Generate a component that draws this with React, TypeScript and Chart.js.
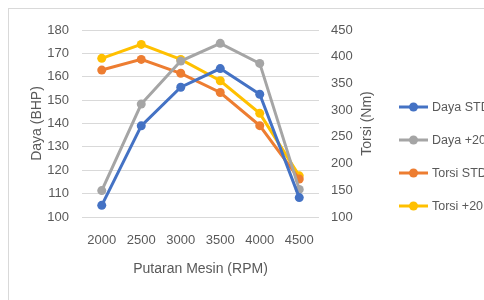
import React, { useEffect, useRef } from "react";
import { Chart, registerables } from "chart.js";

Chart.register(...registerables);

const categories = ["2000", "2500", "3000", "3500", "4000", "4500"];
const dayaStd = [105, 139, 155.5, 163.5, 152.5, 108.3];
const dayaPlus20 = [111.3, 148.3, 166.7, 174.3, 165.7, 111.8];
const torsiStd = [375, 395, 369, 333, 271, 171];
const torsiPlus20 = [397, 423, 395, 355, 294, 177];

const FONT = "'Liberation Sans', Arial, sans-serif";
const TEXT = "#595959";

const legendPlugin = {
  id: "customLegend",
  afterDraw(chart: any) {
    const ctx = chart.ctx;
    const area = chart.chartArea;
    ctx.save();
    ctx.fillStyle = TEXT;
    ctx.font = `14px ${FONT}`;
    ctx.textAlign = "center";
    ctx.textBaseline = "middle";
    ctx.translate(358, (area.top + area.bottom) / 2);
    ctx.rotate(-Math.PI / 2);
    ctx.fillText("Torsi (Nm)", 0, 0);
    ctx.restore();

    ctx.save();
    const rows = [98, 131, 164, 197];
    chart.data.datasets.forEach((ds: any, i: number) => {
      const y = rows[i];
      ctx.strokeStyle = ds.borderColor;
      ctx.lineWidth = 3;
      ctx.beginPath();
      ctx.moveTo(390, y);
      ctx.lineTo(419, y);
      ctx.stroke();
      ctx.fillStyle = ds.borderColor;
      ctx.beginPath();
      ctx.arc(404.5, y, 4.5, 0, Math.PI * 2);
      ctx.fill();
      ctx.fillStyle = TEXT;
      ctx.font = `12.5px ${FONT}`;
      ctx.textAlign = "left";
      ctx.textBaseline = "middle";
      ctx.fillText(ds.label, 423, y + 1);
    });
    ctx.restore();
  },
};

export default function App() {
  const ref = useRef<HTMLCanvasElement>(null);
  useEffect(() => {
    document.body.style.overflow = "hidden";
    if (!ref.current) return;
    const mk = (label: string, data: number[], color: string, axis: string) => ({
      label,
      data,
      borderColor: color,
      backgroundColor: color,
      borderWidth: 3,
      pointRadius: 4.5,
      pointHoverRadius: 4.5,
      pointBorderWidth: 0,
      yAxisID: axis,
      tension: 0,
    });
    const chart = new Chart(ref.current, {
      type: "line",
      data: {
        labels: categories,
        datasets: [
          mk("Daya STD", dayaStd, "#4472C4", "y"),
          mk("Daya +20", dayaPlus20, "#A5A5A5", "y"),
          mk("Torsi STD", torsiStd, "#ED7D31", "y1"),
          mk("Torsi +20", torsiPlus20, "#FFC000", "y1"),
        ],
      },
      options: {
        responsive: false,
        animation: false,
        layout: { padding: { left: 16, right: 105, top: 21, bottom: 18 } },
        plugins: { legend: { display: false }, tooltip: { enabled: false } },
        scales: {
          x: {
            offset: true,
            grid: { display: false, drawTicks: false },
            border: { display: false },
            ticks: { color: TEXT, font: { family: FONT, size: 13 }, padding: 16, maxRotation: 0 },
            title: { display: true, text: "Putaran Mesin (RPM)", color: TEXT, font: { family: FONT, size: 14 } },
            afterFit: (s: any) => { s.height = 65; },
          },
          y: {
            position: "left",
            min: 100,
            max: 180,
            ticks: { stepSize: 10, color: TEXT, font: { family: FONT, size: 13 }, padding: 13 },
            grid: { color: "#D9D9D9", lineWidth: 1, drawTicks: false },
            border: { display: false },
            title: { display: true, text: "Daya (BHP)", color: TEXT, font: { family: FONT, size: 14 } },
            afterFit: (s: any) => { s.width = 57; },
          },
          y1: {
            position: "right",
            min: 100,
            max: 450,
            ticks: { stepSize: 50, color: TEXT, font: { family: FONT, size: 13 }, padding: 12 },
            grid: { display: false, drawTicks: false },
            border: { display: false },
            afterFit: (s: any) => { s.width = 60; },
          },
        },
      },
      plugins: [legendPlugin],
    });
    return () => chart.destroy();
  }, []);
  return (
    <div style={{ position: "absolute", left: 8, top: 8, width: 476, height: 292, borderLeft: "1px solid #D9D9D9", borderTop: "1px solid #D9D9D9", overflow: "hidden", background: "#fff", boxSizing: "border-box" }}>
      <canvas ref={ref} width={475} height={291} style={{ display: "block" }} />
    </div>
  );
}
